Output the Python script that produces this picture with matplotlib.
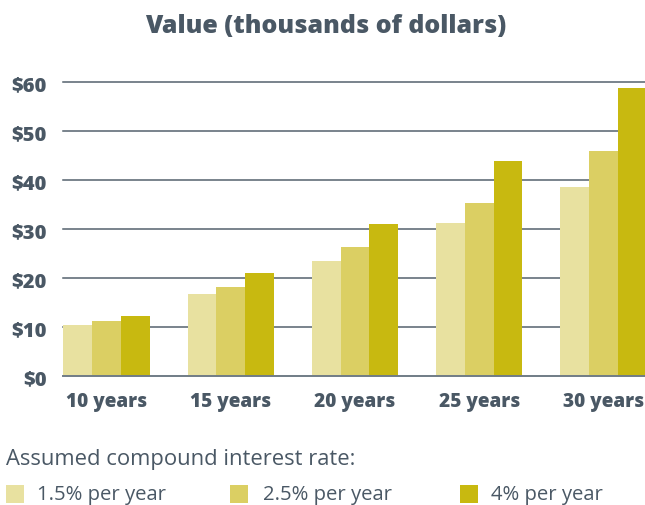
import matplotlib
matplotlib.use("Agg")
import matplotlib.pyplot as plt
import numpy as np
from matplotlib.patches import Rectangle

categories = ["10 years", "15 years", "20 years", "25 years", "30 years"]
series_names = ["1.5% per year", "2.5% per year", "4% per year"]
values_15 = [10.5, 16.8, 23.5, 31.3, 38.7]
values_25 = [11.3, 18.2, 26.4, 35.4, 46.0]
values_40 = [12.3, 21.0, 31.1, 44.0, 58.8]
colors = ["#E8E1A0", "#DBCF63", "#C8B910"]
yticks = [0, 10, 20, 30, 40, 50, 60]
ytick_labels = ["$0", "$10", "$20", "$30", "$40", "$50", "$60"]
title = "Value (thousands of dollars)"
legend_title = "Assumed compound interest rate:"

TXT = "#4A5865"
FONT = "Open Sans"

W, H = 645, 506
fig = plt.figure(figsize=(W / 100, H / 100), dpi=100)

left, right, y0, y60 = 63.3, 646.7, 377.3, 83.3
ax = fig.add_axes([left / W, 1 - y0 / H, (right - left) / W, (y0 - y60) / H])

series = [values_15, values_25, values_40]
w = 0.2315
x = np.arange(len(categories))
for i, (vals, c) in enumerate(zip(series, colors)):
    ax.bar(x + (i - 1) * w, vals, width=w, color=c, zorder=3, linewidth=0)

for v in yticks:
    if v == 0:
        ax.axhline(v, color="#707c86", lw=1.4, zorder=4, clip_on=False)
    else:
        ax.axhline(v, color="#55626d", lw=1.1, zorder=1, clip_on=False)

ax.set_xlim(-1.5 * w, len(categories) - 1 + 1.5 * w)
ax.set_ylim(0, 60)
for s in ax.spines.values():
    s.set_visible(False)
ax.set_yticks(yticks)
ax.set_yticklabels(ytick_labels, fontfamily=FONT, fontweight=800, fontsize=14.5, color=TXT)
ax.set_xticks(x)
ax.set_xticklabels(categories, fontfamily=FONT, fontweight=800, fontsize=13.7, color=TXT)
ax.tick_params(axis="y", length=0, pad=12)
ax.tick_params(axis="x", length=0, pad=10.5)

fig.text(326 / W, 1 - 33 / H, title, ha="center", va="baseline", fontfamily=FONT,
         fontweight=800, fontsize=18, color=TXT)
fig.text(6 / W, 1 - 465 / H, legend_title, ha="left", va="baseline", fontfamily=FONT,
         fontsize=15.8, color=TXT)

sq_x = [6, 230, 460]
lab_x = [37, 263, 491]
for sx, lx, c, name in zip(sq_x, lab_x, colors, series_names):
    fig.patches.append(Rectangle((sx / W, 1 - 504 / H), 18 / W, 18 / H,
                                 transform=fig.transFigure, color=c, lw=0))
    fig.text(lx / W, 1 - 500 / H, name, ha="left", va="baseline", fontfamily=FONT,
             fontsize=14.6, color=TXT)

fig.savefig("out.png", dpi=100)
